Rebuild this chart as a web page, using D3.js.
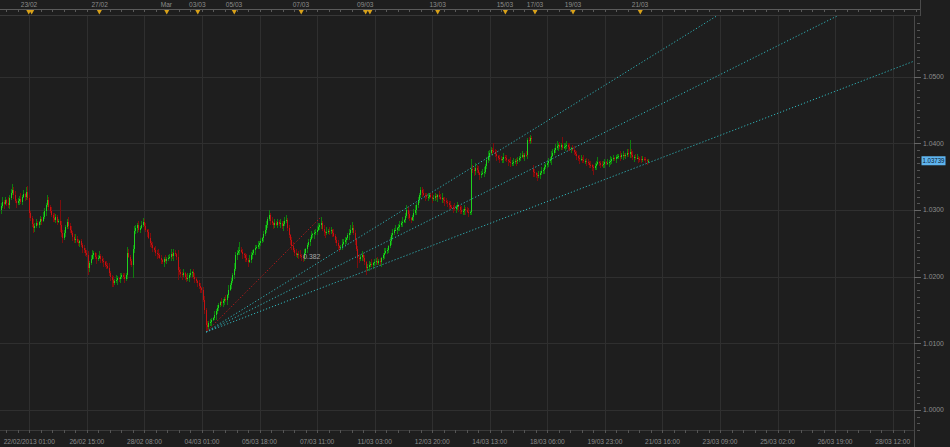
<!DOCTYPE html>
<html><head><meta charset="utf-8">
<script src="https://cdn.jsdelivr.net/npm/d3@7"></script>
<style>
html,body{margin:0;padding:0;background:#1e1e1e;}
svg{display:block;}
text{font-family:"Liberation Sans",Arial,sans-serif;}
</style></head>
<body><svg id="c" width="950" height="447"></svg>
<script>
// ---- data (prices in pips above 1.0000) ----
const closes = [
300,306,312,309,315,311,307,318,325,330,
322,314,310,313,317,312,320,324,319,327,
318,295,288,279,273,276,281,278,282,286,
284,290,298,307,315,305,299,292,288,285,
289,282,284,277,266,258,265,274,282,276,
270,266,260,255,257,252,250,253,247,243,
240,236,232,213,220,227,232,235,230,226,
228,231,226,224,222,218,216,213,205,199,
195,190,193,195,198,196,200,202,199,197,
202,236,230,224,218,241,268,273,277,270,
273,278,282,276,270,267,258,250,247,243,
240,236,234,232,228,225,222,226,224,227,
228,230,234,231,236,234,230,210,207,204,
202,205,200,196,198,203,206,207,200,196,
193,190,186,183,180,165,150,127,124,130,
132,135,138,142,148,153,157,162,160,163,
167,165,172,180,187,193,202,212,232,236,
238,240,237,234,232,228,225,222,225,232,
236,240,243,245,247,250,253,258,264,270,
278,286,292,284,280,277,280,278,282,279,
281,276,279,283,285,273,262,255,246,240,
236,232,234,233,231,229,228,235,241,247,
252,257,262,264,265,267,270,274,277,280,
272,267,265,267,269,268,270,266,261,255,
250,246,243,245,249,252,255,258,262,266,
270,273,265,255,242,228,226,230,232,228,
222,213,215,217,219,218,220,222,224,221,
223,222,228,232,236,238,240,246,254,262,
266,270,270,273,275,277,280,282,285,291,
300,294,288,285,290,296,300,307,315,322,
330,326,323,321,319,320,322,320,317,318,
321,319,322,320,317,318,315,313,312,310,
307,305,304,303,301,304,307,304,300,297,
299,302,300,297,295,297,362,360,358,363,
360,355,352,354,356,357,366,375,381,386,
390,388,387,384,381,378,376,375,377,379,
378,375,373,372,370,371,372,374,373,375,
378,380,382,380,383,382,405,403,408,406,
357,355,352,351,352,355,358,360,364,367,
370,373,375,381,386,390,393,396,397,395,
398,393,395,396,397,395,391,393,390,387,
384,381,378,376,377,375,373,374,372,370,
368,367,365,363,366,369,372,370,368,367,
369,372,370,371,372,374,376,378,377,379,
379,381,380,382,383,381,382,385,384,387,
383,379,380,378,378,377,376,375,377,376,
375,373,374];
const upperWicks = [
6,4,8,3,5,2,9,4,6,9, 4,7,3,5,4,8,3,6,2,7, 9,5,4,3,7,4,6,3,2,5, 4,7,5,3,8,4,2,6,4,7,
5,4,3,31,6,4,5,3,4,7, 4,6,3,4,7,4,5,2,4,3, 5,3,4,7,4,6,8,3,2,5, 4,7,3,5,4,2,6,4,7,3,
3,6,4,7,3,2,5,4,3,6, 4,8,5,3,2,7,8,5,4,7, 3,5,6,4,5,2,4,7,3,5, 2,6,4,7,3,5,2,4,6,3,
5,4,7,3,5,4,2,10,4,5, 3,6,2,4,7,3,5,2,4,6, 3,2,5,4,2,4,6,3,7,4, 5,3,2,7,4,5,3,2,6,4,
3,6,2,7,4,5,3,8,5,4, 7,12,4,5,2,4,6,3,7,5, 4,2,5,3,7,4,5,2,4,7, 5,4,8,3,6,2,7,4,5,3,
6,2,4,7,7,3,5,2,4,6, 3,5,2,4,7,3,3,6,2,4, 5,3,7,2,5,4,6,7,3,10, 4,6,2,7,3,5,4,2,6,3,
4,5,2,3,7,4,5,2,4,6, 7,9,4,5,2,4,6,3,7,4, 5,2,4,6,3,7,2,5,4,6, 3,5,2,4,7,5,3,2,6,4,
5,3,7,2,4,6,3,7,2,5, 7,4,5,2,3,6,7,4,5,3, 4,4,6,2,4,5,2,3,7,4, 5,3,2,6,4,7,2,4,5,3,
4,6,2,3,7,4,5,2,4,6, 3,5,2,4,6,2,14,5,4,7, 4,6,2,4,5,7,3,5,7,4, 5,3,13,4,6,2,4,5,3,7,
4,5,2,3,7,4,6,2,4,5, 3,5,7,4,2,6,3,5,4,3, 5,4,2,3,6,4,7,3,5,4, 3,5,4,7,5,3,6,7,4,5,
3,12,5,4,7,3,5,2,4,6, 3,5,2,4,6,3,7,2,4,5, 4,6,2,3,5,4,7,2,4,6, 5,4,2,6,3,7,4,5,2,4,
5,3,7,4,5,2,4,6,7,18, 4,5,2,4,6,3,2,5,4,3, 4,2,3];
const lowerWicks = [
4,6,3,7,2,5,4,6,3,2, 5,4,7,2,6,3,4,2,5,4, 3,7,5,4,8,6,3,2,5,4, 6,2,4,7,3,5,4,2,6,3,
4,5,2,10,6,8,3,5,2,4, 5,3,7,4,5,2,4,6,3,7, 4,5,2,11,6,3,2,5,4,7, 3,2,6,4,7,3,5,2,4,6,
11,5,3,2,7,4,5,3,2,6, 4,5,2,7,3,20,6,4,7,3, 5,2,4,6,3,7,2,5,4,6, 3,5,7,4,2,6,3,7,4,5,
3,2,6,4,7,3,5,15,4,5, 7,3,5,4,2,6,3,7,4,5, 3,5,4,7,5,3,6,10,5,3, 4,6,2,3,7,4,5,2,4,6,
5,3,7,4,2,6,3,5,4,7, 3,5,2,7,4,6,3,7,2,5, 6,4,7,2,3,5,4,2,6,3, 4,5,2,7,3,6,4,2,5,3,
6,4,7,3,2,5,4,7,6,3, 5,2,4,7,3,6,6,4,2,5, 3,6,2,4,7,3,5,2,4,5, 4,6,7,2,3,5,4,7,2,5,
4,6,6,3,5,2,4,6,3,7, 3,5,2,7,4,15,6,3,7,4, 5,11,4,6,2,3,7,4,5,3, 4,5,7,3,6,2,4,5,3,7,
5,3,2,6,4,7,3,5,2,4, 3,7,5,4,2,6,3,7,4,5, 4,6,2,7,3,5,4,2,6,3, 5,4,7,3,2,6,4,7,3,5,
6,4,2,7,3,5,4,7,6,3, 4,6,7,2,5,3,5,4,7,6, 5,3,7,4,2,6,3,5,4,7, 3,5,2,4,7,3,5,2,4,6,
5,3,7,2,6,4,5,3,7,4, 3,5,2,4,7,3,5,2,4,6, 7,5,4,7,3,6,2,4,6,3, 4,6,3,7,2,4,5,3,7,4,
5,3,2,6,4,7,3,5,2,4, 3,6,4,7,3,5,2,4,6,3, 5,4,7,11,3,6,2,4,5,3, 4,6,2,3,7,4,5,2,4,6,
3,2,6,4,7,3,5,2,4,6, 5,4,7,3,2,6,4,5,3,2, 4,5,2];
const firstOpen = 297;
const gapOpens = {380: 362};          // weekend gap opening price
const lastPrice = 1.03739;

const timeLabels = ["22/02/2013 01:00","26/02 15:00","28/02 08:00","04/03 01:00","05/03 18:00",
  "07/03 11:00","11/03 03:00","12/03 20:00","14/03 13:00","18/03 06:00","19/03 23:00",
  "21/03 16:00","23/03 09:00","25/03 02:00","26/03 19:00","28/03 12:00"];
const timeLabelBars = [21,62,103,144,185,226,267,308,349,390,431,472,513,554,595,636];
const priceTicks = [1.00,1.01,1.02,1.03,1.04,1.05];
const eventLabels = ["23/02","27/02","Mar","03/03","05/03","07/03","09/03","13/03","15/03","17/03","19/03","21/03"];
const eventLabelBars = [20.8,71.1,118.6,140.7,166.8,214.5,260.3,311.9,359.8,381.2,408.3,456.0];
const eventMarkerBars = [20.6,22.7,70.9,118.9,141.0,167.0,214.7,260.6,263.6,311.9,360.1,381.2,408.3,456.2];
const fanLowBar = 147, fanHighBar = 229;
const fanLevels = [0.382, 0.5, 0.618];
const fanLabels = ["0.382"];

// ---- build OHLC ----
const bars = closes.map((c, i) => {
  const o = i === 0 ? firstOpen : (gapOpens[i] !== undefined ? gapOpens[i] : closes[i-1]);
  const hi = Math.max(o, c) + upperWicks[i], lo = Math.min(o, c) - lowerWicks[i];
  const f = v => 1 + v / 10000;
  return {i, o: f(o), c: f(c), h: f(hi), l: f(lo)};
});

const W = 950, H = 447;
const plot = {l: 0, r: 914, t: 16, b: 430};
const x = d3.scaleLinear().domain([21, 636]).range([29.3, 892.7]);
const y = d3.scaleLinear().domain([1.0, 1.05]).range([410, 76.7]);
const svg = d3.select("#c");
svg.append("rect").attr("width", W).attr("height", H).attr("fill", "#1e1e1e");

svg.append("defs").append("clipPath").attr("id", "pc")
  .append("rect").attr("x", plot.l).attr("y", plot.t).attr("width", plot.r - plot.l).attr("height", plot.b - plot.t);

// grid
const grid = svg.append("g").attr("shape-rendering", "crispEdges");
grid.selectAll(".gy").data(priceTicks).join("line")
  .attr("x1", plot.l).attr("x2", plot.r).attr("y1", d => Math.round(y(d)) + 0.5).attr("y2", d => Math.round(y(d)) + 0.5)
  .attr("stroke", "#2f2f2f");
grid.selectAll(".gx").data(timeLabelBars).join("line")
  .attr("x1", d => Math.round(x(d)) + 0.5).attr("x2", d => Math.round(x(d)) + 0.5).attr("y1", plot.t).attr("y2", plot.b)
  .attr("stroke", "#2f2f2f");

// candles
const cg = svg.append("g").attr("clip-path", "url(#pc)").attr("shape-rendering", "crispEdges");
const up = d => d.c >= d.o;
cg.selectAll(".w").data(bars).join("rect")
  .attr("x", d => Math.floor(x(d.i))).attr("width", 1)
  .attr("y", d => y(d.h)).attr("height", d => Math.max(1, y(d.l) - y(d.h)))
  .attr("fill", d => up(d) ? "#0e7d0e" : "#7c0d0d");
cg.selectAll(".b").data(bars).join("rect")
  .attr("x", d => Math.floor(x(d.i))).attr("width", 1)
  .attr("y", d => y(Math.max(d.o, d.c))).attr("height", d => Math.max(1, Math.abs(y(d.o) - y(d.c))))
  .attr("fill", d => up(d) ? "#1fd21f" : "#c31212");

// fan
const lowP = bars[fanLowBar].l, highP = bars[fanHighBar].h;
const fg = svg.append("g").attr("clip-path", "url(#pc)");
fg.append("line")
  .attr("x1", x(fanLowBar)).attr("y1", y(lowP)).attr("x2", x(fanHighBar)).attr("y2", y(highP))
  .attr("stroke", "#c01a1a").attr("stroke-width", 1).attr("stroke-dasharray", "1.2,2");
fanLevels.forEach(lv => {
  const p = highP - lv * (highP - lowP);
  const far = 1200;
  const pf = lowP + (p - lowP) * (far - fanLowBar) / (fanHighBar - fanLowBar);
  fg.append("line")
    .attr("x1", x(fanLowBar)).attr("y1", y(lowP)).attr("x2", x(far)).attr("y2", y(pf))
    .attr("stroke", "#2fb3b8").attr("stroke-width", 1).attr("stroke-dasharray", "1.2,2");
});
fanLabels.forEach((t, k) => {
  const p = highP - fanLevels[k] * (highP - lowP);
  svg.append("text").attr("x", x(fanHighBar) - 1).attr("y", y(p) - 1.5)
    .attr("text-anchor", "end").attr("font-size", 6.8).attr("fill", "#a8a8a8").text(t);
});

// right axis
const ra = svg.append("g").attr("shape-rendering", "crispEdges");
ra.append("line").attr("x1", plot.r + 0.5).attr("x2", plot.r + 0.5).attr("y1", plot.t).attr("y2", H).attr("stroke", "#4a4a4a");
const minor = d3.range(0, 66).map(k => 0.994 + k * 0.001).filter(v => y(v) > plot.t + 1 && y(v) < plot.b);
ra.selectAll(".mt").data(minor).join("line")
  .attr("x1", plot.r + 3).attr("x2", plot.r + 6).attr("y1", d => Math.round(y(d)) + 0.5).attr("y2", d => Math.round(y(d)) + 0.5)
  .attr("stroke", "#555");
ra.selectAll(".Mt").data(priceTicks).join("line")
  .attr("x1", plot.r).attr("x2", plot.r + 7).attr("y1", d => Math.round(y(d)) + 0.5).attr("y2", d => Math.round(y(d)) + 0.5)
  .attr("stroke", "#666");
svg.selectAll(".pl").data(priceTicks).join("text")
  .attr("x", plot.r + 9).attr("y", d => y(d) + 2.4).attr("font-size", 6.8).attr("fill", "#8c8c8c")
  .text(d => d3.format(".4f")(d));
// last price tag
const ly = y(lastPrice);
svg.append("rect").attr("x", 921.5).attr("y", ly - 4.5).attr("width", 24).attr("height", 9).attr("fill", "#5fb4ee");
svg.append("text").attr("x", 922.5).attr("y", ly + 2.5).attr("font-size", 6.6).attr("fill", "#0a1a30")
  .attr("textLength", 22).attr("lengthAdjust", "spacingAndGlyphs")
  .text(d3.format(".5f")(lastPrice));

// bottom axis
const ba = svg.append("g").attr("shape-rendering", "crispEdges");
ba.append("line").attr("x1", 0).attr("x2", plot.r).attr("y1", plot.b + 0.5).attr("y2", plot.b + 0.5).attr("stroke", "#3a3a3a");
const bMinor = d3.range(-3, 85).map(k => 21 + k * 8.2).filter(v => x(v) > 0 && x(v) < plot.r);
ba.selectAll(".bt").data(bMinor).join("line")
  .attr("x1", d => Math.round(x(d)) + 0.5).attr("x2", d => Math.round(x(d)) + 0.5).attr("y1", plot.b).attr("y2", plot.b + 3)
  .attr("stroke", "#555");
svg.selectAll(".tl").data(timeLabels).join("text")
  .attr("font-size", 6.6).attr("fill", "#8c8c8c").attr("y", 443.5)
  .text(d => d)
  .each(function(d, k) {
    const w = this.getComputedTextLength();
    const cx = Math.max(x(timeLabelBars[k]), w / 2 + 0.5);
    d3.select(this).attr("x", cx).attr("text-anchor", "middle");
  });

// top event strip
const tg = svg.append("g").attr("shape-rendering", "crispEdges");
tg.append("line").attr("x1", 0).attr("x2", 920).attr("y1", 9.5).attr("y2", 9.5).attr("stroke", "#5a5a5a");
tg.append("line").attr("x1", 0).attr("x2", 920).attr("y1", 15.5).attr("y2", 15.5).attr("stroke", "#383838");
tg.append("line").attr("x1", 920.5).attr("x2", 920.5).attr("y1", 0).attr("y2", 16).attr("stroke", "#4a4a4a");
const tMinor = d3.range(-3, 85).map(k => 21 + k * 8.2).filter(v => x(v) > 0 && x(v) < 918);
tg.selectAll(".tt").data(tMinor).join("line")
  .attr("x1", d => Math.round(x(d)) + 0.5).attr("x2", d => Math.round(x(d)) + 0.5).attr("y1", 9.5).attr("y2", 11.5)
  .attr("stroke", "#5a5a5a");
svg.selectAll(".el").data(eventLabels).join("text")
  .attr("x", (d, k) => x(eventLabelBars[k])).attr("y", 7.3).attr("text-anchor", "middle")
  .attr("font-size", 6.6).attr("fill", "#8c8c8c").text(d => d);
svg.selectAll(".em").data(eventMarkerBars).join("path")
  .attr("d", d => { const cx = x(d); return `M${cx - 2.5},10 L${cx + 2.5},10 L${cx},14.5 Z`; })
  .attr("fill", "#d9a21a");
</script></body></html>
